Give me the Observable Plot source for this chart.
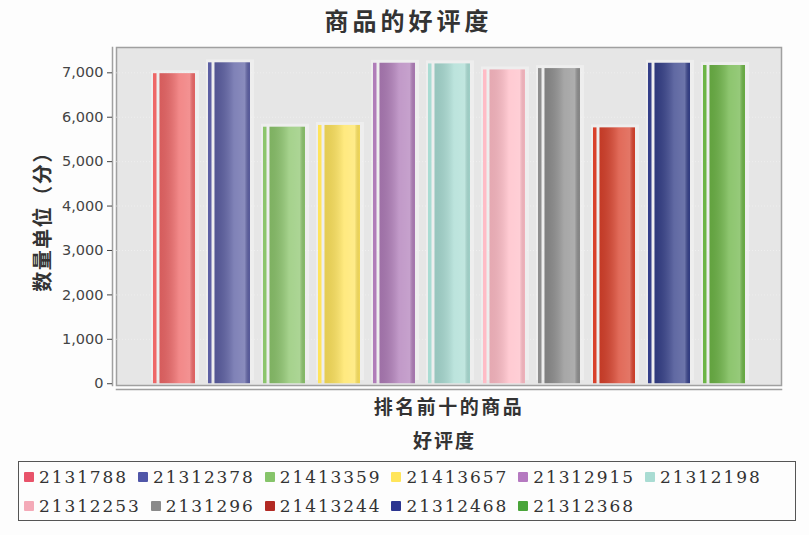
<!DOCTYPE html>
<html>
<head>
<meta charset="utf-8">
<script src="https://cdn.jsdelivr.net/npm/d3@7"></script>
<script src="https://cdn.jsdelivr.net/npm/@observablehq/plot@0.6"></script>
<style>
  html, body { margin: 0; padding: 0; background: #fdfdfd; width: 809px; height: 535px; overflow: hidden; }
  #title { height: 40px; line-height: 40px; text-align: center; font-family: "Noto Sans CJK SC", sans-serif; font-weight: bold; font-size: 24px; letter-spacing: 4px; color: #333; padding-left: 8px; }
  #caption { height: 40px; line-height: 40px; text-align: center; font-family: "Noto Sans CJK SC", sans-serif; font-weight: bold; font-size: 19px; letter-spacing: 2px; color: #333; padding-left: 80px; }
  #legend { position: absolute; left: 18px; top: 461px; width: 771px; height: 58px; border: 1.5px solid #555; display: flex; flex-wrap: wrap; align-content: flex-start; padding: 0 0 0 5px; box-sizing: content-box; }
  .item { display: flex; align-items: center; height: 29px; margin-right: 10px; font-family: "DejaVu Serif", serif; font-size: 17px; letter-spacing: 1.9px; color: #333; }
  .sw { width: 10px; height: 10px; margin-right: 5px; border-radius: 1px; }
  #chart svg { display: block; }
</style>
</head>
<body>
<div id="title">商品的好评度</div>
<div id="chart"></div>
<div id="caption">好评度</div>
<div id="legend"></div>
<script>
const ids = ["2131788","21312378","21413359","21413657","21312915","21312198","21312253","2131296","21413244","21312468","21312368"];
const values = [6980, 7225, 5775, 5815, 7215, 7200, 7065, 7095, 5760, 7215, 7165];
const colors = ["#ee6767","#5c5fa3","#8cc56c","#ffe45c","#b07db9","#a9dcd3","#ffbcc6","#8e8e8e","#d9412b","#343f89","#6db546"];
const legendColors = ["#e8536a","#5056a8","#86c46a","#ffe55a","#b579c0","#a9dcd3","#f4aab8","#8a8a8a","#b22a24","#2c3590","#4aa53a"];
const yTicks = [0, 1000, 2000, 3000, 4000, 5000, 6000, 7000];
const title = "商品的好评度";
const xLabel = "排名前十的商品";
const yLabel = "数量单位（分）";

const data = ids.map((id, i) => ({id, value: values[i], color: colors[i]}));

const defs = () => {
  const ns = "http://www.w3.org/2000/svg";
  const g = document.createElementNS(ns, "defs");
  g.innerHTML = `<linearGradient id="shine" x1="0" x2="1" y1="0" y2="0">
    <stop offset="0" stop-color="#000" stop-opacity="0.10"/>
    <stop offset="0.55" stop-color="#fff" stop-opacity="0.22"/>
    <stop offset="0.85" stop-color="#fff" stop-opacity="0.28"/>
    <stop offset="1" stop-color="#000" stop-opacity="0.05"/>
  </linearGradient>`;
  return g;
};

const chart = Plot.plot({
  width: 809,
  height: 380,
  marginLeft: 116,
  marginRight: 28,
  marginTop: 7,
  marginBottom: 35,
  style: {background: "transparent", fontFamily: "DejaVu Sans, sans-serif"},
  x: {domain: ids, paddingInner: 0.243, paddingOuter: 0.61, axis: null},
  y: {domain: [-40, 7570], axis: null},
  color: {type: "identity"},
  marks: [
    defs,
    Plot.frame({fill: "#e6e6e6", stroke: "#a0a0a0", strokeWidth: 1.5}),
    Plot.ruleY(yTicks.slice(1), {stroke: "#f4f4f4", strokeOpacity: 0.6, strokeDasharray: "1,2"}),
    Plot.barY(data, {x: "id", y1: 0, y2: "value", fill: "#fbfbfb", fillOpacity: 0.35, insetLeft: -2, insetRight: -4, dy: -3}),
    Plot.barY(data, {x: "id", y1: 0, y2: "value", fill: "color", insetRight: 38.5}),
    Plot.barY(data, {x: "id", y1: 0, y2: "value", fill: "color", insetLeft: 6.5}),
    Plot.barY(data, {x: "id", y1: 0, y2: "value", fill: "url(#shine)", insetLeft: 6.5}),
    Plot.frame({anchor: "bottom", dy: 4, stroke: "#a0a0a0", strokeWidth: 1.5}),
    Plot.frame({anchor: "left", dx: -4, stroke: "#a0a0a0", strokeWidth: 1.5}),
    Plot.axisY({ticks: yTicks, tickFormat: d3.format(","), tickSize: 5, tickPadding: 4, dx: -4, fontSize: 14.5, color: "#444", label: null}),
    Plot.text([yLabel], {text: d => d, frameAnchor: "left", textAnchor: "middle", rotate: -90, dx: -73, fontSize: 20, fontWeight: "bold", fontFamily: "Noto Sans CJK SC", fill: "#333"}),
    Plot.text([xLabel], {text: d => d, frameAnchor: "bottom", textAnchor: "middle", dy: 28, fontSize: 19, fontWeight: "bold", fontFamily: "Noto Sans CJK SC", fill: "#333"}),
  ]
});
document.getElementById("chart").appendChild(chart);
chart.querySelectorAll("text").forEach(t => {
  if (t.textContent === yLabel) t.setAttribute("letter-spacing", "1.5");
  if (t.textContent === xLabel) t.setAttribute("letter-spacing", "2.5");
});

const legend = document.getElementById("legend");
ids.forEach((id, i) => {
  const item = document.createElement("div");
  item.className = "item";
  const sw = document.createElement("span");
  sw.className = "sw";
  sw.style.background = legendColors[i];
  const t = document.createElement("span");
  t.textContent = id;
  item.appendChild(sw);
  item.appendChild(t);
  legend.appendChild(item);
});
</script>
</body>
</html>
